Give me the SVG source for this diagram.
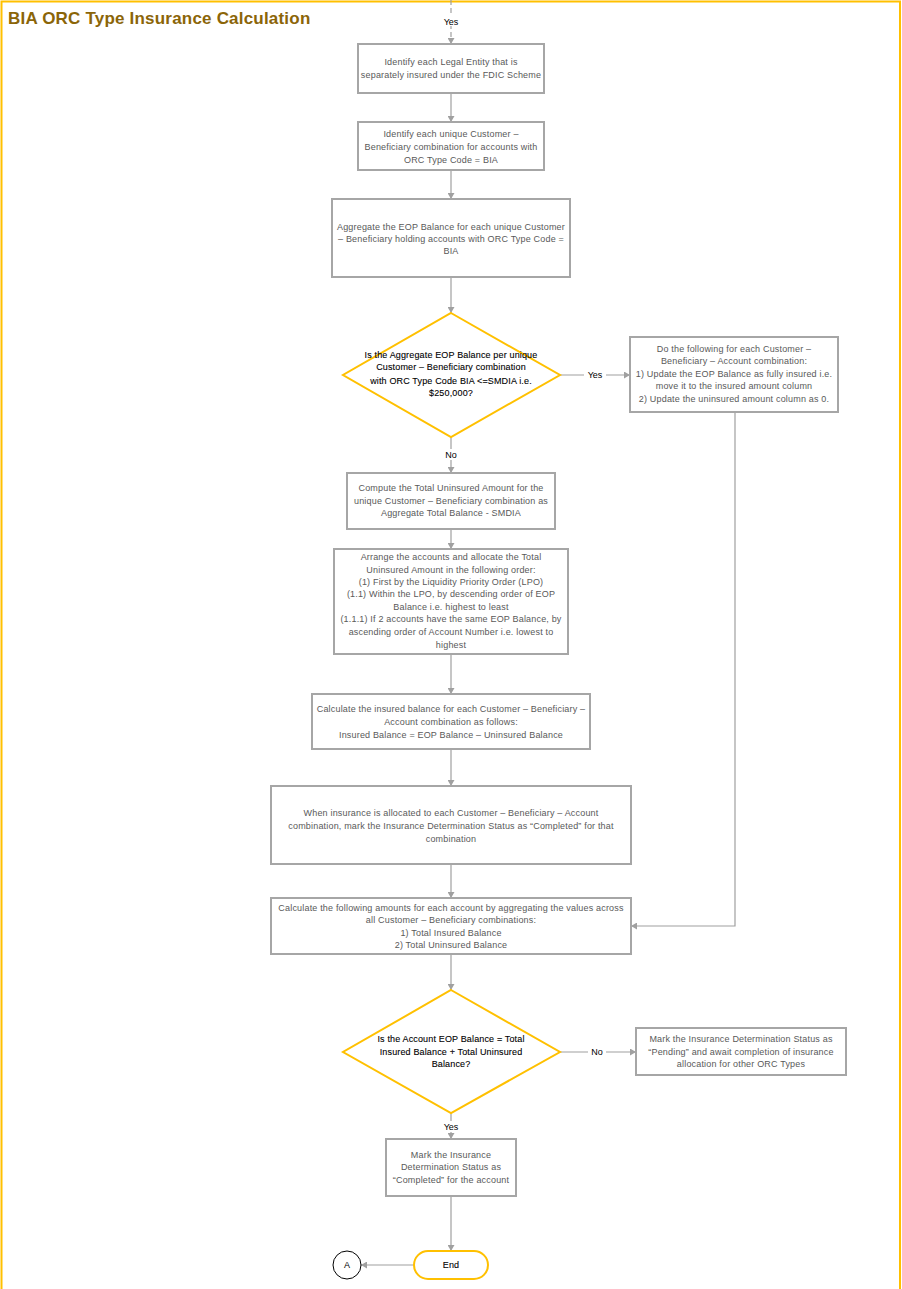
<svg xmlns="http://www.w3.org/2000/svg" width="902" height="1289" viewBox="0 0 902 1289">
<defs>
<marker id="arr" markerUnits="userSpaceOnUse" markerWidth="7" markerHeight="7" refX="6" refY="3.5" orient="auto">
<path d="M0,0 L6,3.5 L0,7 z" fill="#A0A0A0"/>
</marker>
<style>
.box{fill:#fff;stroke:#A6A6A6;stroke-width:2}
.dec{fill:#fff;stroke:#FFC000;stroke-width:2}
.t{font-family:"Liberation Sans",Arial,sans-serif;font-size:9px;fill:#595959;text-anchor:middle;letter-spacing:0.18px}
.d{font-family:"Liberation Sans",Arial,sans-serif;font-size:9px;fill:#000;text-anchor:middle;letter-spacing:0.15px;stroke:#000;stroke-width:0.1}
.lbl{font-family:"Liberation Sans",Arial,sans-serif;font-size:9px;fill:#000;text-anchor:middle}
.c{fill:none;stroke:#A0A0A0;stroke-width:1.2;marker-end:url(#arr)}
</style>
</defs>
<rect width="902" height="1289" fill="#fff"/>
<path d="M1.5,1289 V1.5 H900 V1289" fill="none" stroke="#FFC000" stroke-width="2"/>
<text x="8" y="24" font-family="Liberation Sans,Arial,sans-serif" font-size="17" font-weight="bold" letter-spacing="0.2" fill="#8B6508">BIA ORC Type Insurance Calculation</text>

<g id="connectors">
<path class="c" d="M451,0 V44" stroke-dasharray="5,3"/>
<path class="c" d="M451,93 V122"/>
<path class="c" d="M451,170 V199"/>
<path class="c" d="M451,277 V313"/>
<path class="c" d="M451,437 V473"/>
<path class="c" d="M560,375 H630"/>
<path class="c" d="M735,412 V926 H631"/>
<path class="c" d="M451,529 V549"/>
<path class="c" d="M451,654 V694"/>
<path class="c" d="M451,749 V786"/>
<path class="c" d="M451,864 V898"/>
<path class="c" d="M451,954 V990"/>
<path class="c" d="M560,1052 H636"/>
<path class="c" d="M451,1113 V1139"/>
<path class="c" d="M451,1196 V1251"/>
<path class="c" d="M414,1265 H361"/>
<rect x="440" y="15" width="22" height="11" fill="#fff"/>
<text class="lbl" x="451" y="25">Yes</text>
<rect x="584" y="369" width="22" height="11" fill="#fff"/>
<text class="lbl" x="595" y="378">Yes</text>
<rect x="442" y="449" width="18" height="11" fill="#fff"/>
<text class="lbl" x="451" y="458">No</text>
<rect x="588" y="1046" width="18" height="11" fill="#fff"/>
<text class="lbl" x="597" y="1055">No</text>
<rect x="440" y="1121" width="22" height="11" fill="#fff"/>
<text class="lbl" x="451" y="1130">Yes</text>
</g>

<g id="n1">
<rect class="box" x="358" y="44" width="186" height="49"/>
<text class="t" x="451" y="65">Identify each Legal Entity that is</text>
<text class="t" x="451" y="78">separately insured under the FDIC Scheme</text>
</g>
<g id="n2">
<rect class="box" x="358" y="122" width="186" height="48"/>
<text class="t" x="451" y="137">Identify each unique Customer –</text>
<text class="t" x="451" y="150">Beneficiary combination for accounts with</text>
<text class="t" x="451" y="163">ORC Type Code = BIA</text>
</g>
<g id="n3">
<rect class="box" x="332" y="199" width="238" height="78"/>
<text class="t" x="451" y="230">Aggregate the EOP Balance for each unique Customer</text>
<text class="t" x="451" y="242">– Beneficiary holding accounts with ORC Type Code =</text>
<text class="t" x="451" y="254">BIA</text>
</g>
<g id="n4">
<polygon class="dec" points="451,313 560,375 451,437 343,375"/>
<text class="d" x="451" y="358">Is the Aggregate EOP Balance per unique</text>
<text class="d" x="451" y="370">Customer – Beneficiary combination</text>
<text class="d" x="451" y="384">with ORC Type Code BIA &lt;=SMDIA i.e.</text>
<text class="d" x="451" y="396">$250,000?</text>
</g>
<g id="n5">
<rect class="box" x="630" y="337" width="208" height="75"/>
<text class="t" x="734" y="352">Do the following for each Customer –</text>
<text class="t" x="734" y="364">Beneficiary – Account combination:</text>
<text class="t" x="734" y="377">1) Update the EOP Balance as fully insured i.e.</text>
<text class="t" x="734" y="389">move it to the insured amount column</text>
<text class="t" x="734" y="402">2) Update the uninsured amount column as 0.</text>
</g>
<g id="n6">
<rect class="box" x="347" y="473" width="208" height="56"/>
<text class="t" x="451" y="491">Compute the Total Uninsured Amount for the</text>
<text class="t" x="451" y="504">unique Customer – Beneficiary combination as</text>
<text class="t" x="451" y="516">Aggregate Total Balance - SMDIA</text>
</g>
<g id="n7">
<rect class="box" x="334" y="549" width="234" height="105"/>
<text class="t" x="451" y="560">Arrange the accounts and allocate the Total</text>
<text class="t" x="451" y="573">Uninsured Amount in the following order:</text>
<text class="t" x="451" y="585">(1) First by the Liquidity Priority Order (LPO)</text>
<text class="t" x="451" y="597">(1.1) Within the LPO, by descending order of EOP</text>
<text class="t" x="451" y="610">Balance i.e. highest to least</text>
<text class="t" x="451" y="622">(1.1.1) If 2 accounts have the same EOP Balance, by</text>
<text class="t" x="451" y="635">ascending order of Account Number i.e. lowest to</text>
<text class="t" x="451" y="648">highest</text>
</g>
<g id="n8">
<rect class="box" x="312" y="694" width="278" height="55"/>
<text class="t" x="451" y="712">Calculate the insured balance for each Customer – Beneficiary –</text>
<text class="t" x="451" y="725">Account combination as follows:</text>
<text class="t" x="451" y="738">Insured Balance = EOP Balance – Uninsured Balance</text>
</g>
<g id="n9">
<rect class="box" x="271" y="786" width="360" height="78"/>
<text class="t" x="451" y="816">When insurance is allocated to each Customer – Beneficiary – Account</text>
<text class="t" x="451" y="829">combination, mark the Insurance Determination Status as “Completed” for that</text>
<text class="t" x="451" y="842">combination</text>
</g>
<g id="n10">
<rect class="box" x="271" y="898" width="360" height="56"/>
<text class="t" x="451" y="911">Calculate the following amounts for each account by aggregating the values across</text>
<text class="t" x="451" y="923">all Customer – Beneficiary combinations:</text>
<text class="t" x="451" y="936">1) Total Insured Balance</text>
<text class="t" x="451" y="948">2) Total Uninsured Balance</text>
</g>
<g id="n11">
<polygon class="dec" points="451,990 560,1052 451,1113 343,1052"/>
<text class="d" x="451" y="1042">Is the Account EOP Balance = Total</text>
<text class="d" x="451" y="1055">Insured Balance + Total Uninsured</text>
<text class="d" x="451" y="1067">Balance?</text>
</g>
<g id="n12">
<rect class="box" x="636" y="1028" width="210" height="47"/>
<text class="t" x="741" y="1042">Mark the Insurance Determination Status as</text>
<text class="t" x="741" y="1055">“Pending” and await completion of insurance</text>
<text class="t" x="741" y="1067">allocation for other ORC Types</text>
</g>
<g id="n13">
<rect class="box" x="386" y="1139" width="130" height="57"/>
<text class="t" x="451" y="1158">Mark the Insurance</text>
<text class="t" x="451" y="1170">Determination Status as</text>
<text class="t" x="451" y="1183">“Completed” for the account</text>
</g>
<g id="n14">
<rect x="414" y="1251" width="74" height="28" rx="14" fill="#fff" stroke="#FFC000" stroke-width="2"/>
<text class="d" x="451" y="1268">End</text>
</g>
<g id="n15">
<circle cx="347" cy="1265" r="14" fill="#fff" stroke="#000" stroke-width="1"/>
<text class="lbl" x="347" y="1268">A</text>
</g>
</svg>
